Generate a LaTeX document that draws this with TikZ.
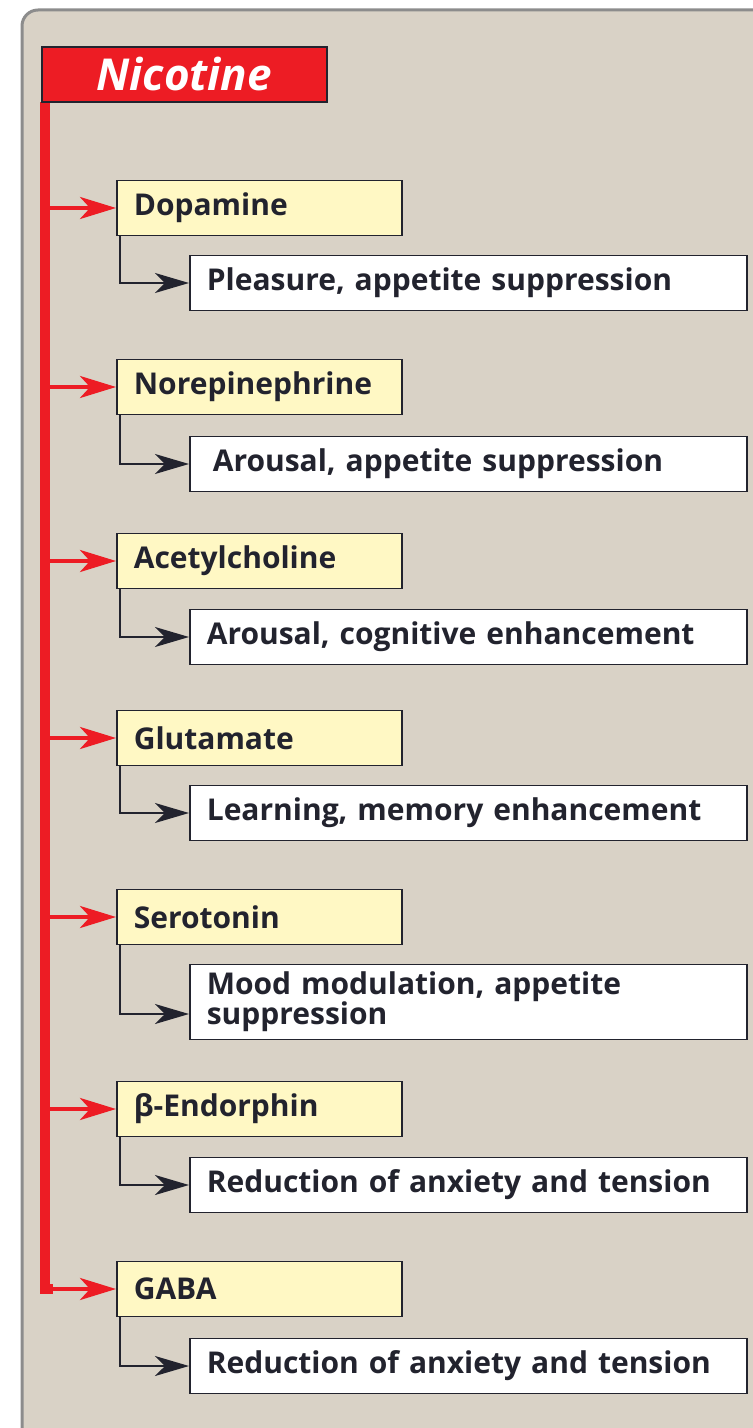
\documentclass[tikz,border=0pt]{standalone}
\usepackage{fontspec}
\setmainfont{Open Sans}
\usepackage{xcolor}
\usepackage{tikz}
\usetikzlibrary{arrows.meta,positioning,calc}

\definecolor{panelbg}{HTML}{D9D2C6}
\definecolor{panelrule}{HTML}{8C8C8C}
\definecolor{nicred}{HTML}{ED1C24}
\definecolor{boxyellow}{HTML}{FFF8C4}
\definecolor{inkdark}{HTML}{22232E}

\begin{document}
\begin{tikzpicture}[
    x=0.5pt, y=-0.5pt,
    every node/.style = {font=\bfseries\fontsize{15}{15}\selectfont, text=inkdark,
      draw=inkdark, line width=0.8pt, anchor=west, inner xsep=8.5pt, align=left},
    nicbox/.style = {fill=nicred, text=white, align=center,
      font=\bfseries\itshape\fontsize{22}{22}\selectfont,
      text width=125.5pt, minimum height=27.5pt, inner ysep=0pt},
    drug/.style = {fill=boxyellow, text width=125.5pt, minimum height=27.5pt},
    effect/.style = {fill=white, text width=261.5pt, minimum height=27.5pt},
    trunkline/.style = {draw=nicred, line width=5pt, line join=miter},
    redarrow/.style = {draw=nicred, line width=2pt,
      -{Stealth[length=18pt, width=11pt, inset=5pt]}},
    blackarrow/.style = {draw=inkdark, line width=1pt,
      -{Stealth[length=17pt, width=10pt, inset=5pt]}}
  ]
  \useasboundingbox (0,0) rectangle (753,1428);
  % panel
  \draw[panelrule, fill=panelbg, line width=1.5pt, rounded corners=8pt]
    (22,10) rectangle (790,1470);

  % transmitters
  \node[drug] (dop) at (116,208) {Dopamine};
  \node[drug] (nor) at (116,387) {Norepinephrine};
  \node[drug] (ace) at (116,561) {Acetylcholine};
  \node[drug] (glu) at (116,738) {Glutamate};
  \node[drug] (ser) at (116,917) {Serotonin};
  \node[drug] (endo) at (116,1109) {β-Endorphin};
  \node[drug] (gaba) at (116,1289) {GABA};

  % effects
  \node[effect] (ple) at (189,283) {Pleasure, appetite suppression};
  \node[effect] (aro) at (189,464) {\hspace{3pt}Arousal, appetite suppression};
  \node[effect] (cog) at (189,637) {Arousal, cognitive enhancement};
  \node[effect] (lea) at (189,813) {Learning, memory enhancement};
  \node[effect, minimum height=37.5pt, inner ysep=2pt] (moo) at (189,1002)
    {Mood modulation, appetite\\ suppression};
  \node[effect] (anx) at (189,1185) {Reduction of anxiety and tension};
  \node[effect] (ten) at (189,1366) {Reduction of anxiety and tension};

  % red trunk from nicotine
  \coordinate (trunk) at (45,102);
  \draw[trunkline] (trunk) -- (trunk |- gaba.west) -- ++(8,0);
  \draw[redarrow] (trunk |- dop.west) -- (dop.west);
  \draw[redarrow] (trunk |- nor.west) -- (nor.west);
  \draw[redarrow] (trunk |- ace.west) -- (ace.west);
  \draw[redarrow] (trunk |- glu.west) -- (glu.west);
  \draw[redarrow] (trunk |- ser.west) -- (ser.west);
  \draw[redarrow] (trunk |- endo.west) -- (endo.west);
  \draw[redarrow] (trunk |- gaba.west) -- (gaba.west);
  \node[nicbox] (nic) at (41,74.5) {Nicotine};

  % black connectors
  \draw[blackarrow] ([xshift=2pt]dop.south west) |- (ple.west);
  \draw[blackarrow] ([xshift=2pt]nor.south west) |- (aro.west);
  \draw[blackarrow] ([xshift=2pt]ace.south west) |- (cog.west);
  \draw[blackarrow] ([xshift=2pt]glu.south west) |- (lea.west);
  \draw[blackarrow] ([xshift=2pt]ser.south west) |- ([yshift=-6pt]moo.west);
  \draw[blackarrow] ([xshift=2pt]endo.south west) |- (anx.west);
  \draw[blackarrow] ([xshift=2pt]gaba.south west) |- (ten.west);
\end{tikzpicture}
\end{document}
